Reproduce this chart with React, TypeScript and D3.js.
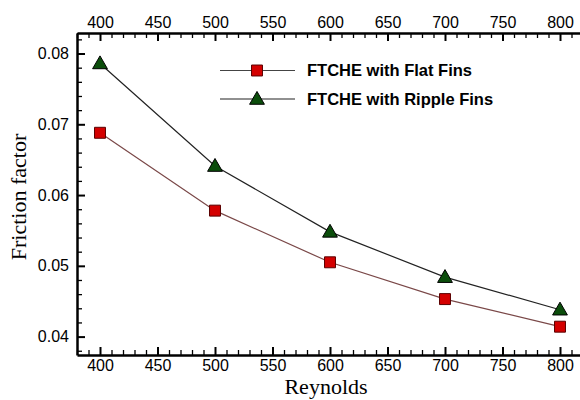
import { useRef, useEffect } from "react";
import * as d3 from "d3";

const reynolds = [400, 500, 600, 700, 800];
const flatFins = [0.0688, 0.0578, 0.0505, 0.0453, 0.0414];
const rippleFins = [0.0786, 0.0641, 0.0548, 0.0484, 0.0438];
const seriesNames = ["FTCHE with Flat Fins", "FTCHE with Ripple Fins"];
const xTicks = [400, 450, 500, 550, 600, 650, 700, 750, 800];
const yTicks = [0.04, 0.05, 0.06, 0.07, 0.08];

const W = 580;
const H = 400;
const left = 77;
const top = 33;
const bottom = 355;

const App = () => {
  const ref = useRef<SVGSVGElement>(null);

  useEffect(() => {
    document.body.style.margin = "0";
    const svg = d3.select(ref.current);
    svg.selectAll("*").remove();

    const x = d3.scaleLinear().domain([380, 820]).range([left, left + 506]);
    const y = d3.scaleLinear().domain([0.0374, 0.0829]).range([bottom, top]);

    const font = "'Liberation Sans', Arial, sans-serif";
    const serif = "'Liberation Serif', 'Times New Roman', serif";
    const minorX = d3.range(380, 821, 10).filter((v) => v % 50 !== 0);
    const minorY = d3.range(38, 83, 2).map((v) => v / 1000).filter((v) => Math.round(v * 1000) % 10 !== 0);

    const styleAxis = (g: any) => {
      g.select(".domain").attr("stroke-width", 2.5).attr("stroke", "#000");
      g.selectAll(".tick line").attr("stroke-width", 2).attr("stroke", "#000");
      g.selectAll(".tick text").attr("font-family", font).attr("font-size", 16).attr("fill", "#000");
    };
    const styleMinor = (g: any) => {
      g.select(".domain").remove();
      g.selectAll(".tick line").attr("stroke-width", 1.3).attr("stroke", "#000");
    };

    // bottom axis
    svg.append("g").attr("transform", `translate(0,${bottom})`)
      .call(d3.axisBottom(x).tickValues(minorX).tickSize(-5).tickFormat(() => "") as any)
      .call(styleMinor);
    svg.append("g").attr("transform", `translate(0,${bottom})`)
      .call(d3.axisBottom(x).tickValues(xTicks).tickSize(-8).tickSizeOuter(0).tickPadding(5).tickFormat(d3.format("d")) as any)
      .call(styleAxis);

    // top axis
    svg.append("g").attr("transform", `translate(0,${top})`)
      .call(d3.axisTop(x).tickValues(minorX).tickSize(-5).tickFormat(() => "") as any)
      .call(styleMinor);
    svg.append("g").attr("transform", `translate(0,${top})`)
      .call(d3.axisTop(x).tickValues(xTicks).tickSize(-8).tickSizeOuter(0).tickPadding(5).tickFormat(d3.format("d")) as any)
      .call(styleAxis);

    // left axis
    svg.append("g").attr("transform", `translate(${left},0)`)
      .call(d3.axisLeft(y).tickValues(minorY).tickSize(-5).tickFormat(() => "") as any)
      .call(styleMinor);
    svg.append("g").attr("transform", `translate(${left},0)`)
      .call(d3.axisLeft(y).tickValues(yTicks).tickSize(-8).tickSizeOuter(0).tickPadding(8).tickFormat(d3.format(".2f")) as any)
      .call(styleAxis);

    // axis titles
    svg.append("text")
      .attr("x", 326).attr("y", 394)
      .attr("text-anchor", "middle")
      .attr("font-family", serif)
      .attr("font-size", 22)
      .text("Reynolds");
    svg.append("text")
      .attr("transform", "translate(26,197) rotate(-90)")
      .attr("text-anchor", "middle")
      .attr("font-family", serif)
      .attr("font-size", 22)
      .text("Friction factor");

    const line = d3.line<number>().x((_, i) => x(reynolds[i])).y((d) => y(d));

    svg.append("path").attr("d", line(flatFins)).attr("fill", "none").attr("stroke", "#7a4848").attr("stroke-width", 1.2);
    svg.append("path").attr("d", line(rippleFins)).attr("fill", "none").attr("stroke", "#222").attr("stroke-width", 1.2);

    const square = d3.symbol().type(d3.symbolSquare).size(120);
    const tri = d3.symbol().type(d3.symbolTriangle).size(95);

    svg.append("g").selectAll("path").data(flatFins).enter().append("path")
      .attr("d", square())
      .attr("transform", (d, i) => `translate(${x(reynolds[i])},${y(d)})`)
      .attr("fill", "#d40000").attr("stroke", "#5a0000").attr("stroke-width", 1);
    svg.append("g").selectAll("path").data(rippleFins).enter().append("path")
      .attr("d", tri())
      .attr("transform", (d, i) => `translate(${x(reynolds[i])},${y(d) + 1})`)
      .attr("fill", "#0b4d0b").attr("stroke", "#000").attr("stroke-width", 1);

    // legend
    const legend = svg.append("g");
    const legY = [70.5, 99];
    seriesNames.forEach((name, i) => {
      legend.append("line").attr("x1", 220).attr("x2", 295).attr("y1", legY[i]).attr("y2", legY[i])
        .attr("stroke", i === 0 ? "#444" : "#222").attr("stroke-width", 1.2);
      legend.append("path")
        .attr("d", i === 0 ? square() : tri())
        .attr("transform", `translate(257,${legY[i] + (i === 0 ? 0 : 1)})`)
        .attr("fill", i === 0 ? "#d40000" : "#0b4d0b")
        .attr("stroke", i === 0 ? "#5a0000" : "#000").attr("stroke-width", 1);
      legend.append("text").attr("x", 307).attr("y", legY[i] + 5.5)
        .attr("font-family", font).attr("font-weight", "bold").attr("font-size", 16.5)
        .text(name);
    });
  }, []);

  return (
    <div>
      <svg ref={ref} width={W} height={H} style={{ display: "block", background: "#fff" }}></svg>
    </div>
  );
};

export default App;
